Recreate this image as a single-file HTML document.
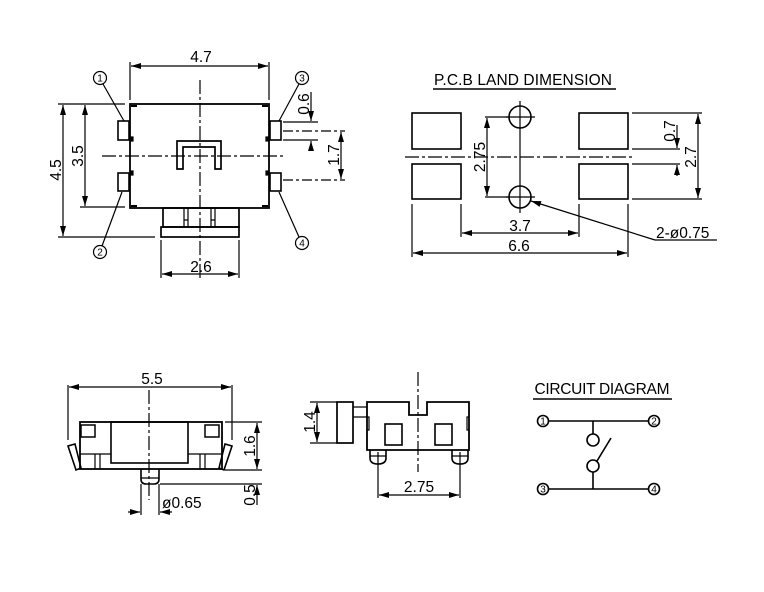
<!DOCTYPE html>
<html><head><meta charset="utf-8"><style>
html,body{margin:0;padding:0;background:#fff}
svg{display:block}
text{font-family:"Liberation Sans",sans-serif;fill:#000}
</style></head><body>
<svg width="764" height="592" viewBox="0 0 764 592" xmlns="http://www.w3.org/2000/svg">
<defs>
<marker id="a" viewBox="0 0 10 6" refX="10" refY="3" markerWidth="11" markerHeight="6" orient="auto-start-reverse" markerUnits="userSpaceOnUse"><path d="M0,0 L10,3 L0,6 z" fill="#000"/></marker>
</defs>
<g stroke="#000" stroke-width="1.2" fill="none">
<!-- TOP VIEW -->
<line x1="130" y1="62" x2="130" y2="100"/><line x1="269" y1="62" x2="269" y2="100"/>
<line x1="131" y1="66" x2="268" y2="66" marker-start="url(#a)" marker-end="url(#a)"/>
<line x1="200" y1="80" x2="200" y2="278" stroke-dasharray="14,3,3,3"/>
<line x1="102" y1="156" x2="286" y2="156" stroke-dasharray="14,3,3,3"/>
<rect x="130" y="104" width="139" height="104" stroke-width="1.8"/>
<path d="M131,106 h6 M268,106 h-6 M131,206 h6 M268,206 h-6" stroke-width="2"/>
<rect x="118" y="121" width="11" height="19" stroke-width="1.6"/>
<rect x="118" y="173" width="11" height="18" stroke-width="1.6"/>
<rect x="270" y="121" width="11" height="19" stroke-width="1.6"/>
<rect x="270" y="173" width="11" height="18" stroke-width="1.6"/>
<rect x="130" y="137" width="3" height="4" fill="#000"/><rect x="130" y="171" width="3" height="4" fill="#000"/>
<rect x="266" y="137" width="3" height="4" fill="#000"/><rect x="266" y="171" width="3" height="4" fill="#000"/>
<path d="M177,169 V141 H221 V169 H215 V147 H183 V169 Z" stroke-width="1.7"/>
<rect x="163" y="208" width="76" height="19" stroke-width="1.7"/>
<rect x="161" y="227" width="78" height="10" stroke-width="1.7"/>
<path d="M184,208 V227 M188,208 V227 M211,208 V227 M215,208 V227 M184,220 H188 M211,220 H215"/>
<!-- 4.5 / 3.5 -->
<line x1="58" y1="104" x2="125" y2="104"/><line x1="58" y1="237" x2="155" y2="237"/>
<line x1="63" y1="105" x2="63" y2="236" marker-start="url(#a)" marker-end="url(#a)"/>
<line x1="80" y1="207" x2="125" y2="207"/>
<line x1="85" y1="105" x2="85" y2="206" marker-start="url(#a)" marker-end="url(#a)"/>
<!-- 2.6 -->
<line x1="161" y1="240" x2="161" y2="278"/><line x1="239" y1="240" x2="239" y2="278"/>
<line x1="162" y1="274" x2="238" y2="274" marker-start="url(#a)" marker-end="url(#a)"/>
<!-- 0.6 / 1.7 -->
<line x1="283" y1="122" x2="318" y2="122"/><line x1="283" y1="140" x2="318" y2="140"/>
<line x1="311" y1="92" x2="311" y2="121" marker-end="url(#a)"/>
<line x1="311" y1="151" x2="311" y2="141" marker-end="url(#a)"/>
<line x1="283" y1="131" x2="345" y2="131" stroke-dasharray="10,3,3,3"/><line x1="283" y1="180" x2="345" y2="180" stroke-dasharray="10,3,3,3"/>
<line x1="341" y1="132" x2="341" y2="179" marker-start="url(#a)" marker-end="url(#a)"/>
<!-- leaders -->
<circle cx="100" cy="78" r="6.5"/><line x1="103" y1="84" x2="124" y2="121"/>
<circle cx="100" cy="252" r="6.5"/><line x1="102" y1="246" x2="122" y2="192"/>
<circle cx="302" cy="78" r="6.5"/><line x1="299" y1="84" x2="279" y2="121"/>
<circle cx="302" cy="243" r="6.5"/><line x1="299" y1="237" x2="279" y2="192"/>

<!-- PCB LAND -->
<line x1="433" y1="89" x2="616" y2="89" stroke-width="1.6"/>
<rect x="412" y="113" width="49" height="36" stroke-width="1.6"/>
<rect x="412" y="164" width="49" height="35" stroke-width="1.6"/>
<rect x="579" y="113" width="49" height="36" stroke-width="1.6"/>
<rect x="579" y="164" width="49" height="35" stroke-width="1.6"/>
<line x1="405" y1="157" x2="635" y2="157" stroke-dasharray="14,3,3,3"/>
<circle cx="520" cy="117" r="11" stroke-width="1.6"/><circle cx="520" cy="197" r="11" stroke-width="1.6"/>
<path d="M520,101 V213 M506,117 H535 M506,197 H535"/>
<line x1="485" y1="117" x2="508" y2="117"/><line x1="485" y1="197" x2="508" y2="197"/>
<line x1="487" y1="118" x2="487" y2="196" marker-start="url(#a)" marker-end="url(#a)"/>
<line x1="632" y1="113" x2="702" y2="113"/><line x1="632" y1="199" x2="702" y2="199"/>
<line x1="632" y1="149" x2="680" y2="149"/><line x1="632" y1="164" x2="680" y2="164"/>
<line x1="677" y1="125" x2="677" y2="148" marker-end="url(#a)"/>
<line x1="677" y1="176" x2="677" y2="165" marker-end="url(#a)"/>
<line x1="698" y1="114" x2="698" y2="198" marker-start="url(#a)" marker-end="url(#a)"/>
<line x1="461" y1="204" x2="461" y2="237"/><line x1="579" y1="204" x2="579" y2="237"/>
<line x1="412" y1="204" x2="412" y2="257"/><line x1="628" y1="204" x2="628" y2="257"/>
<line x1="462" y1="233" x2="578" y2="233" marker-start="url(#a)" marker-end="url(#a)"/>
<line x1="413" y1="253" x2="627" y2="253" marker-start="url(#a)" marker-end="url(#a)"/>
<line x1="655" y1="240" x2="531" y2="201" marker-end="url(#a)"/><line x1="655" y1="240" x2="717" y2="240"/>

<!-- FRONT VIEW -->
<line x1="68" y1="385" x2="68" y2="440"/><line x1="232" y1="385" x2="232" y2="440"/>
<line x1="69" y1="387" x2="231" y2="387" marker-start="url(#a)" marker-end="url(#a)"/>
<line x1="149" y1="390" x2="149" y2="500" stroke-dasharray="14,3,3,3"/>
<rect x="80" y="422" width="142" height="47" stroke-width="1.8"/>
<rect x="111" y="422" width="77" height="41" stroke-width="1.6"/>
<rect x="81" y="425" width="14" height="12" stroke-width="1.5"/>
<rect x="205" y="425" width="14" height="12" stroke-width="1.5"/>
<path d="M80,454 H111 M188,454 H222 M95,454 V469 M100,454 V469 M200,454 V469 M205,454 V469"/>
<path d="M68,446 L75,444 L81,468 L76,470 Z" stroke-width="1.6"/>
<path d="M232,446 L225,444 L219,468 L224,470 Z" stroke-width="1.6"/>
<path d="M141,469 V479 Q141,484 146,484 H154 Q159,484 159,479 V469" stroke-width="1.6"/>
<line x1="141" y1="478" x2="159" y2="478"/>
<line x1="225" y1="422" x2="262" y2="422"/><line x1="225" y1="470" x2="262" y2="470"/>
<line x1="257" y1="423" x2="257" y2="469" marker-start="url(#a)" marker-end="url(#a)"/>
<line x1="160" y1="484" x2="262" y2="484"/>
<line x1="257" y1="505" x2="257" y2="485" marker-end="url(#a)"/>
<line x1="141" y1="484" x2="141" y2="515"/><line x1="159" y1="484" x2="159" y2="515"/>
<line x1="128" y1="512" x2="140" y2="512" marker-end="url(#a)"/>
<line x1="172" y1="512" x2="160" y2="512" marker-end="url(#a)"/>

<!-- SIDE VIEW -->
<line x1="418" y1="372" x2="418" y2="472" stroke-dasharray="14,3,3,3"/>
<path d="M367,450 V402 H409 V415 H427 V402 H469 V450 Z" stroke-width="1.8"/>
<rect x="337" y="402" width="16" height="41" stroke-width="1.7"/>
<path d="M353,407 H367 M353,417 H367"/>
<rect x="385" y="424" width="17" height="21" stroke-width="1.6"/>
<rect x="435" y="424" width="17" height="21" stroke-width="1.6"/>
<path d="M367,417 H369 V430 H367 M469,417 H467 V430 H469"/>
<path d="M370,450 V458 Q370,464 378,464 Q386,464 386,458 V450" stroke-width="1.6"/>
<path d="M452,450 V458 Q452,464 460,464 Q468,464 468,458 V450" stroke-width="1.6"/>
<path d="M370,456 H386 M452,456 H468"/>
<line x1="310" y1="402" x2="337" y2="402"/><line x1="310" y1="443" x2="337" y2="443"/>
<line x1="317" y1="403" x2="317" y2="442" marker-start="url(#a)" marker-end="url(#a)"/>
<line x1="378" y1="452" x2="378" y2="498"/><line x1="460" y1="452" x2="460" y2="498"/>
<line x1="379" y1="495" x2="459" y2="495" marker-start="url(#a)" marker-end="url(#a)"/>

<!-- CIRCUIT -->
<line x1="533" y1="399" x2="672" y2="399" stroke-width="1.6"/>
<g stroke-width="1.6">
<circle cx="543" cy="421" r="5.5"/><circle cx="654" cy="421" r="5.5"/>
<circle cx="543" cy="489" r="5.5"/><circle cx="654" cy="489" r="5.5"/>
<line x1="548" y1="421" x2="649" y2="421"/><line x1="548" y1="489" x2="649" y2="489"/>
<line x1="593" y1="421" x2="593" y2="434"/>
<circle cx="593" cy="440" r="6"/><circle cx="593" cy="466" r="6"/>
<line x1="593" y1="472" x2="593" y2="489"/>
<line x1="597" y1="461" x2="611" y2="438"/>
</g>
</g>
<g font-size="15.5">
<text x="201" y="62" text-anchor="middle">4.7</text>
<text x="201" y="272" text-anchor="middle">2.6</text>
<text transform="translate(61,170) rotate(-90)" text-anchor="middle">4.5</text>
<text transform="translate(83,156) rotate(-90)" text-anchor="middle">3.5</text>
<text transform="translate(309,104) rotate(-90)" text-anchor="middle">0.6</text>
<text transform="translate(339,155) rotate(-90)" text-anchor="middle">1.7</text>
<text x="520" y="231" text-anchor="middle">3.7</text>
<text x="519" y="251" text-anchor="middle">6.6</text>
<text x="656" y="238">2-ø0.75</text>
<text transform="translate(485,157) rotate(-90)" text-anchor="middle">2.75</text>
<text transform="translate(675,131) rotate(-90)" text-anchor="middle">0.7</text>
<text transform="translate(696,157) rotate(-90)" text-anchor="middle">2.7</text>
<text x="523" y="85" text-anchor="middle" textLength="178">P.C.B LAND DIMENSION</text>
<text x="152" y="384" text-anchor="middle">5.5</text>
<text transform="translate(255,446) rotate(-90)" text-anchor="middle">1.6</text>
<text transform="translate(255,495) rotate(-90)" text-anchor="middle">0.5</text>
<text x="162" y="508">ø0.65</text>
<text transform="translate(315,422) rotate(-90)" text-anchor="middle">1.4</text>
<text x="419" y="492" text-anchor="middle">2.75</text>
<text x="602" y="394" text-anchor="middle" textLength="135">CIRCUIT DIAGRAM</text>
</g>
<g font-size="10" text-anchor="middle">
<text x="100" y="81.5">1</text><text x="100" y="255.5">2</text><text x="302" y="81.5">3</text><text x="302" y="246.5">4</text>
<text x="543" y="424.5">1</text><text x="654" y="424.5">2</text><text x="543" y="492.5">3</text><text x="654" y="492.5">4</text>
</g>
</svg>
</body></html>
